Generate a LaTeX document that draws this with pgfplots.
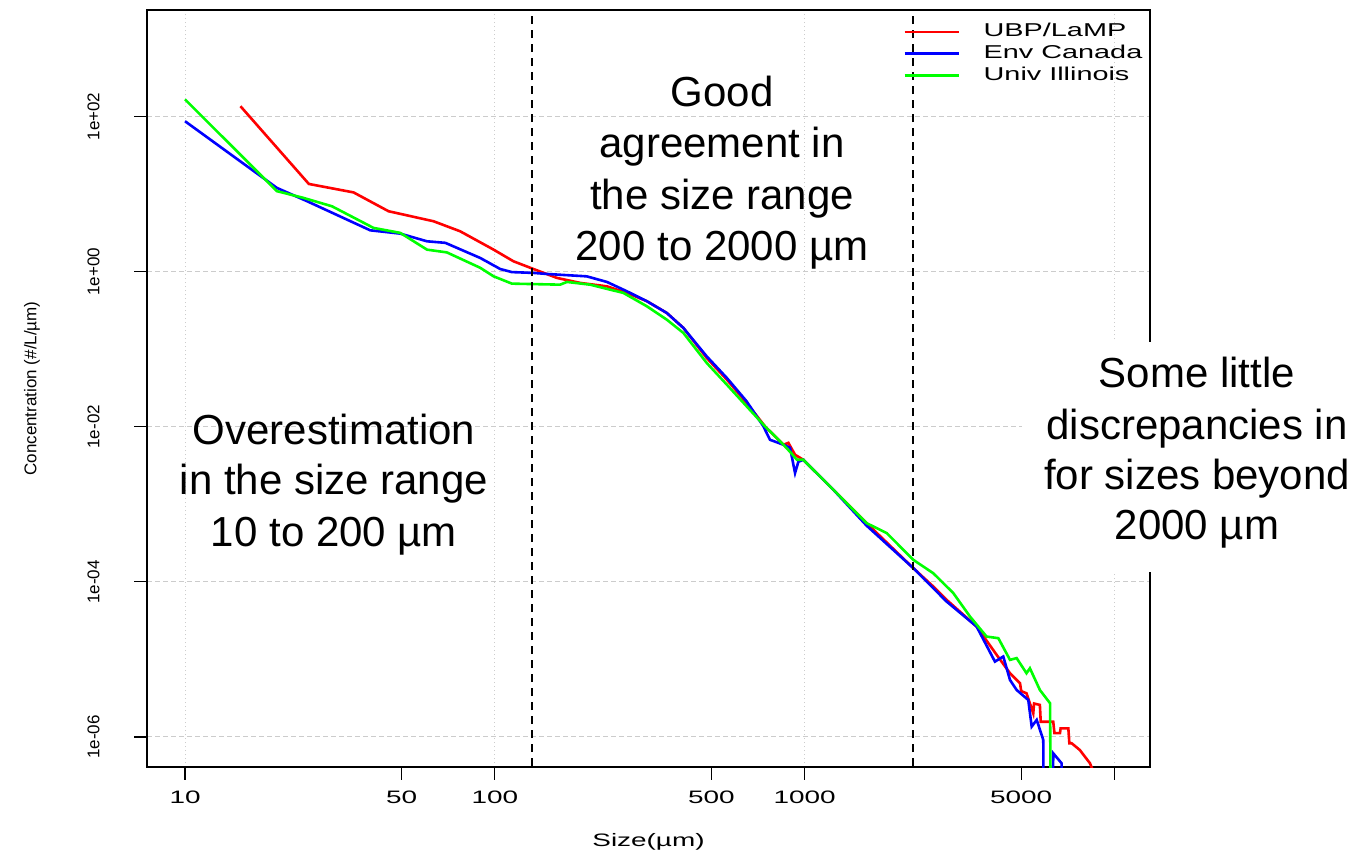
\documentclass[border=0pt]{standalone}
\usepackage{pgfplots}
\pgfplotsset{compat=1.18}
\usepackage{fontspec}
\setmainfont{Liberation Sans}
\newfontfamily\rfont[FakeStretch=1.55]{Liberation Sans}

\pgfplotstableread{
x y
15.1 135.7
25.1 13.5
35.0 10.5
45.4 6.00
63.4 4.46
77.3 3.31
99.1 1.92
114.8 1.36
133.3 1.08
158.6 0.830
188.6 0.715
230 0.646
267 0.531
310 0.414
359 0.293
406 0.188
483 0.0769
561 0.0404
650 0.0202
745 0.0101
854 0.00586
886 0.00620
931 0.00435
990 0.00375
1238 0.00154
1585 5.71e-4
2243 1.50e-4
2602 8.69e-5
2872 5.86e-5
3590 2.65e-5
4168 1.14e-5
4600 6.64e-6
4955 4.93e-6
5000 3.9e-6
5200 3.66e-6
5467 2.02e-6
5500 2.7e-6
5743 2.59e-6
5780 1.57e-6
6039 1.57e-6
6343 1.57e-6
6400 1.12e-6
6668 1.12e-6
6700 1.29e-6
7096 1.29e-6
7150 8.29e-7
7275 8.29e-7
7727 6.80e-7
8334 4.58e-7
8700 3e-7
}\redtab

\pgfplotstableread{
x y
10 86.9
19.8 12.0
24.8 8.07
39.6 3.41
49.5 3.09
60.4 2.46
69.2 2.35
89.7 1.50
104.1 1.08
113.5 0.986
133.3 0.962
147.2 0.933
198 0.869
230 0.736
267 0.557
310 0.414
359 0.293
406 0.188
483 0.0807
561 0.0425
650 0.0212
736 0.0101
773 0.00679
854 0.00586
897 0.00536
931 0.00253
954 0.00353
990 0.00375
1238 0.00154
1585 5.3e-4
2243 1.50e-4
2872 5.57e-5
3590 2.65e-5
4112 9.37e-6
4375 1.09e-5
4600 5.43e-6
4831 4.04e-6
5268 3.00e-6
5404 1.36e-6
5610 1.66e-6
5890 9.14e-7
5930 1e-8
6300 1e-8
6343 6.16e-7
6750 4.58e-7
6800 1e-8
}\bluetab

\pgfplotstableread{
x y
10 166
19.8 10.9
24.1 8.93
29.8 6.96
40.6 3.66
49.5 3.16
60.4 1.92
70.0 1.77
89.7 1.12
99.1 0.869
113.5 0.700
162.5 0.679
170.9 0.736
203 0.679
260 0.531
310 0.356
359 0.240
406 0.162
483 0.0664
561 0.0348
650 0.0183
745 0.0101
854 0.00586
897 0.00475
944 0.00375
990 0.00375
1238 0.00154
1585 5.71e-4
1841 4.25e-4
2243 1.92e-4
2602 1.29e-4
3019 7.15e-5
3417 3.57e-5
3865 1.97e-5
4217 1.88e-5
4600 9.86e-6
4831 1.04e-5
5200 6.64e-6
5333 7.69e-6
5743 4.04e-6
6194 2.72e-6
6250 1e-8
}\greentab

\begin{document}
\begin{tikzpicture}
\useasboundingbox (-73.5pt,-42.5pt) rectangle (607pt,383.5pt);
\begin{axis}[
  scale only axis, width=501.5pt, height=378.5pt,
  xmode=log, ymode=log,
  xmin=7.54, xmax=13020, ymin=4.1e-7, ymax=2361,
  axis line style={line width=0.8pt},
  xminorticks=false, yminorticks=false,
  xtick={10,100,1000,10000}, xticklabels={10,100,1000,{}},
  extra x ticks={50,500,5000}, extra x tick labels={50,500,5000},
  extra x tick style={grid=none},
  ytick={1e-6,1e-4,1e-2,1,100}, yticklabels={1e-06,1e-04,1e-02,1e+00,1e+02},
  xtick pos=left, ytick pos=left,
  tick align=outside, major tick length=6.5pt,
  tick style={black, line width=0.6pt},
  /pgf/number format/assume math mode=true,
  xmajorgrids, ymajorgrids,
  x grid style={gray!40, line width=0.5pt, dash pattern=on 0.75pt off 1.25pt},
  y grid style={gray!40, line width=0.5pt, dash pattern=on 2.5pt off 1.5pt},
  xticklabel style={font=\rfont\fontsize{9}{10}\selectfont, inner sep=0pt, anchor=north},
  xticklabel shift=5.5pt,
  yticklabel style={font=\fontsize{8.5}{10}\selectfont, rotate=90, anchor=south, inner sep=0pt},
  yticklabel shift=17pt,
  xlabel={Size(µm)},
  ylabel={Concentration (\#/L/µm)},
  x label style={font=\rfont\fontsize{9}{10}\selectfont, at={([yshift=-37.5pt]axis description cs:0.5,0)}, anchor=center},
  y label style={font=\fontsize{8.5}{10}\selectfont, at={([xshift=-57.5pt]axis description cs:0,0.5)}, anchor=center},
  legend cell align=left,
  legend image code/.code={\draw[#1] (0pt,0.8pt) -- (27pt,0.8pt); \path[draw=none, fill=none] (0pt,-3pt) rectangle (39.5pt,6.2pt);},
  legend style={draw=none, fill=none, at={(axis description cs:0.7537,0.9855)}, anchor=north west,
    inner sep=0pt, row sep=0pt, column sep=0pt,
    font=\rfont\fontsize{9.3}{10.5}\selectfont,
    nodes={inner sep=0pt, text height=6.2pt, text depth=3pt}},
]
\addplot[red, line width=1.3pt] table[x=x,y=y] {\redtab};
\addlegendentry{UBP/LaMP}
\addplot[blue, line width=1.3pt] table[x=x,y=y] {\bluetab};
\addlegendentry{Env Canada}
\addplot[green, line width=1.3pt] table[x=x,y=y] {\greentab};
\addlegendentry{Univ Illinois}
\addplot[black, line width=1pt, dash pattern=on 4pt off 3pt, forget plot] coordinates {(132,1e-8) (132,1e4)};
\addplot[black, line width=1pt, dash pattern=on 4pt off 3pt, forget plot] coordinates {(2235,1e-8) (2235,1e4)};
\end{axis}
\fill[white] (437.5pt,97.5pt) rectangle (607pt,212.5pt);
\begin{scope}[every node/.style={font=\fontsize{21}{25.5}\selectfont, anchor=base, inner sep=0pt}]
\node at (287.5pt,330pt) {Good};
\node at (287.5pt,304.5pt) {agreement in};
\node at (287.5pt,278.75pt) {the size range};
\node at (287.5pt,253pt) {200 to 2000 µm};
\node at (93.5pt,161pt) {Overestimation};
\node at (93.5pt,136pt) {in the size range};
\node at (93.5pt,110pt) {10 to 200 µm};
\node at (525pt,189.5pt) {Some little};
\node at (525pt,163.5pt) {discrepancies in};
\node at (525pt,138.5pt) {for sizes beyond};
\node at (525pt,113.5pt) {2000 µm};
\end{scope}
\end{tikzpicture}
\end{document}
